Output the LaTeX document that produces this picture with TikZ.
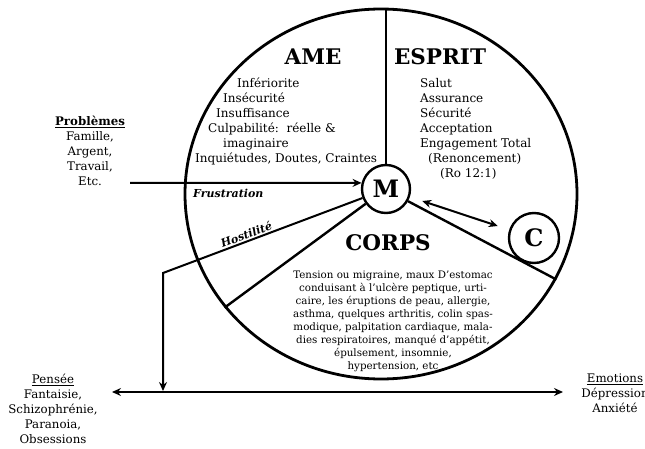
\documentclass[tikz,border=0pt]{standalone}
\usepackage{fontspec}
\setmainfont{DejaVu Serif}
\usetikzlibrary{shapes.geometric,arrows.meta,calc}
\begin{document}
\begin{tikzpicture}[x=1pt,y=-1pt,
  divider/.style={line width=2.4pt},
  link/.style={line width=2pt},
  tip/.style={-{Stealth[length=9pt,width=8pt,inset=3pt]}},
  twotips/.style={{Stealth[length=9pt,width=8pt,inset=3pt]}-{Stealth[length=9pt,width=8pt,inset=3pt]}},
  heading/.style={font=\bfseries\fontsize{21.5}{24}\selectfont, inner sep=0pt},
  letter/.style={circle, draw, line width=2.4pt, font=\bfseries\fontsize{24}{24}\selectfont, inner sep=0pt},
  listtext/.style={font=\fontsize{12}{15}\selectfont, align=left, inner sep=0pt},
  sidetext/.style={font=\fontsize{11.8}{15}\selectfont, align=center, inner sep=0pt},
  smalltext/.style={font=\fontsize{10.3}{13}\selectfont, align=center, inner sep=0pt},
  tag/.style={font=\bfseries\itshape\fontsize{11}{12}\selectfont, inner sep=0pt},
]
\useasboundingbox (0,0) rectangle (645,449);

% the whole person
\node[ellipse, draw, line width=2.8pt, minimum width=392pt, minimum height=370pt] (big) at (381,194) {};

% mind and conscience
\node[letter, minimum size=48pt] (M) at (386,189) {M};
\node[letter, minimum size=50pt] (C) at (534,238) {C};

% the three parts
\draw[divider] (M.north) -- (M.north |- big.north);
\draw[divider] (M.-29) -- (big.-26);
\draw[divider] (M.216) -- (big.216);

% headings
\node[heading] (ame) at (313,57) {AME};
\node[heading] (esprit) at (440,57) {ESPRIT};
\node[heading] (corps) at (388,243) {CORPS};

% soul
\node[listtext, anchor=north west] (amelist) at (195,78)
  {\hspace*{42pt}Infériorite\\
   \hspace*{28pt}Insécurité\\
   \hspace*{21pt}Insuffisance\\
   \hspace*{13pt}Culpabilité:\ \ réelle \&\\
   \hspace*{28pt}imaginaire\\
   Inquiétudes, Doutes, Craintes};

% spirit
\node[listtext, anchor=north west] (espritlist) at (420,78)
  {Salut\\
   Assurance\\
   Sécurité\\
   Acceptation\\
   Engagement Total\\
   \hspace*{8pt}(Renoncement)\\
   \hspace*{20pt}(Ro 12:1)};

% body
\node[smalltext, anchor=north] (corpslist) at (393,271)
  {Tension ou migraine, maux D'estomac\\
   conduisant à l'ulcère peptique, urti-\\
   caire, les éruptions de peau, allergie,\\
   asthma, quelques arthritis, colin spas-\\
   modique, palpitation cardiaque, mala-\\
   dies respiratoires, manqué d'appétit,\\
   épulsement, insomnie,\\
   hypertension, etc};

% outside pressures
\node[sidetext, anchor=north] (prob) at (90,116)
  {\textbf{\underline{Problèmes}}\\Famille,\\Argent,\\Travail,\\Etc.};
\node[sidetext, anchor=north] (pensee) at (53,374)
  {\underline{Pensée}\\Fantaisie,\\Schizophrénie,\\Paranoia,\\Obsessions};
\node[sidetext, anchor=north] (emotions) at (615,374)
  {\underline{Emotions}\\Dépression\\Anxiété};

% frustration
\coordinate (fstart) at (130,183);
\draw[link, tip] (fstart) -- (M.166);
\node[tag, anchor=base west] (frus) at (193,198) {Frustration};

% hostility
\coordinate (hbend) at (163,273);
\coordinate (hdown) at (163,391);
\draw[link, tip] (M.201) -- node[tag, pos=0.57, sloped, above=1.5pt] (host) {Hostilité} (hbend) -- (hdown);

% thought / emotions axis
\coordinate (axL) at (112,392);
\coordinate (axR) at (563,392);
\draw[link, twotips] (axL) -- (axR);

% mind and conscience
\draw[link, twotips, shorten <=13pt, shorten >=12pt] (M) -- (C);
\end{tikzpicture}
\end{document}
